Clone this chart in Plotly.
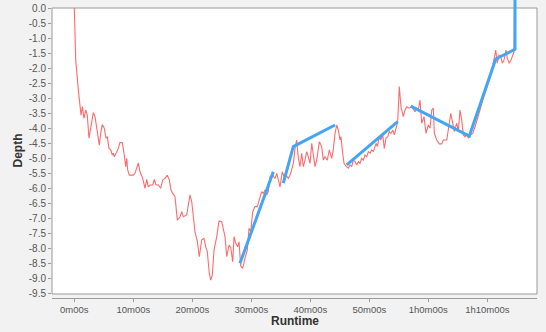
import plotly.graph_objects as go

# Red depth profile (runtime in minutes, depth)
runtime_min = [0.00, 0.24, 0.68, 1.14, 1.36, 1.64, 1.93, 2.20, 2.49, 2.78, 3.22, 3.51, 3.80, 4.24, 4.47, 4.75,
               5.08, 5.37, 5.59, 5.88, 6.17, 6.44, 6.61, 6.78, 7.19, 7.46, 7.75, 8.14, 8.47, 8.71, 8.88, 9.05,
               9.32, 10.00, 10.29, 10.58, 10.85, 11.14, 11.59, 11.98, 12.27, 12.54, 12.83, 13.29, 13.56, 13.85,
               14.24, 14.64, 14.98, 15.37, 15.76, 16.10, 16.39, 16.68, 17.07, 17.46, 17.92, 18.20, 18.47, 19.05,
               19.61, 19.90, 20.46, 20.85, 21.19, 21.59, 21.98, 22.27, 22.54, 22.88, 23.12, 23.39, 23.68, 24.14,
               24.53, 24.98, 25.25, 25.54, 25.83, 26.22, 26.51, 26.85, 27.07, 27.36, 27.69, 27.92, 28.20, 28.54,
               28.93, 29.32, 29.61, 29.90, 30.24, 30.63, 31.02, 31.36, 31.76, 32.03, 32.32, 32.61, 32.88, 33.17,
               33.63, 34.02, 34.31, 34.58, 34.86, 35.25, 35.54, 35.88, 36.27, 36.68, 37.12, 37.41, 37.69, 37.97,
               38.25, 38.54, 38.81, 39.10, 39.39, 39.66, 39.95, 40.24, 40.51, 40.80, 41.08, 41.53, 41.93, 42.20,
               42.49, 42.88, 43.22, 43.63, 43.90, 44.19, 44.47, 44.75, 45.03, 45.20, 45.49, 45.71, 46.05, 46.44,
               46.73, 47.02, 47.29, 47.58, 47.86, 48.14, 48.42, 48.71, 48.98, 49.27, 49.56, 49.83, 50.12, 50.41,
               50.68, 51.14, 51.36, 51.69, 51.93, 52.27, 52.54, 52.83, 53.12, 53.39, 53.68, 53.97, 54.24, 54.53,
               54.81, 55.08, 55.37, 55.76, 56.05, 56.34, 56.78, 57.19, 57.75, 58.03, 58.31, 58.59, 58.88, 59.27,
               59.61, 60.00, 60.29, 60.58, 60.85, 61.02, 61.42, 61.86, 62.27, 62.54, 63.12, 63.51, 63.80, 64.14,
               64.41, 64.81, 65.08, 65.37, 65.66, 65.93, 66.22, 66.51, 66.78, 67.07, 67.53, 67.92, 68.31, 68.76,
               69.22, 69.61, 70.00, 70.34, 70.75, 71.14, 71.42, 71.69, 71.98, 72.27, 72.54, 72.83, 73.17, 73.39,
               73.73, 74.02, 74.31, 74.53, 74.61]
depth = [0.00, -1.73, -2.73, -3.57, -3.29, -3.68, -3.40, -3.57, -4.34, -3.96, -3.49, -3.62, -3.96, -4.57, -4.18, -3.88,
         -4.01, -4.34, -4.29, -4.68, -4.73, -4.90, -4.84, -4.96, -4.79, -4.68, -4.48, -4.49, -4.90, -5.29, -5.01, -5.40,
         -5.57, -5.57, -5.51, -5.29, -5.16, -5.46, -5.68, -6.01, -5.71, -5.96, -5.90, -5.90, -5.71, -5.90,
         -5.90, -6.01, -5.73, -5.68, -5.57, -5.73, -6.07, -6.18, -6.29, -7.07, -6.96, -6.79, -6.96, -6.90,
         -6.23, -6.46, -7.46, -7.79, -8.29, -7.73, -7.68, -7.96, -8.12, -8.84, -9.07, -8.90, -8.07, -7.62,
         -7.10, -7.12, -7.34, -7.62, -8.29, -7.90, -7.98, -8.46, -7.62, -7.84, -7.96, -7.79, -8.60, -8.68,
         -8.34, -8.07, -7.34, -7.46, -6.79, -6.62, -6.62, -6.40, -6.12, -6.18, -6.07, -6.23, -6.12, -5.62,
         -5.57, -5.68, -5.51, -5.73, -5.96, -5.46, -5.62, -5.57, -5.68, -5.51, -5.18, -4.68, -4.40, -5.01,
         -5.29, -4.84, -5.29, -5.07, -4.79, -4.96, -5.18, -4.51, -4.84, -5.29, -5.07, -4.46, -4.62, -5.07,
         -4.96, -5.07, -4.73, -5.01, -4.71, -4.18, -3.90, -4.07, -4.40, -4.29, -4.84, -5.18, -5.27, -5.34,
         -5.23, -5.29, -5.07, -5.12, -5.23, -5.12, -5.18, -5.01, -5.07, -4.90, -4.96, -4.79, -4.84, -4.73,
         -4.79, -4.51, -4.62, -4.29, -4.40, -4.23, -4.68, -4.34, -4.29, -4.12, -4.18, -4.07, -4.23, -3.96,
         -3.79, -2.62, -3.30, -3.62, -3.40, -3.29, -3.34, -3.29, -3.46, -3.34, -3.40, -3.07, -3.84, -3.62,
         -4.18, -3.90, -4.01, -3.40, -3.34, -4.18, -4.40, -4.53, -4.53, -4.40, -4.40, -3.90, -3.51, -3.84,
         -4.12, -3.84, -4.12, -3.40, -3.73, -4.23, -4.29, -4.18, -4.34, -4.23, -4.18, -3.96, -3.73, -3.40,
         -3.07, -2.84, -2.68, -2.40, -2.12, -1.73, -1.40, -1.84, -1.57, -1.62, -1.84, -1.73, -1.40, -1.68,
         -1.84, -1.73, -1.57, -1.46, 0.00]

# Blue trend segments (None separates segments)
trend_min = [28.08, 33.73, None, 35.42, 37.12, 44.19, None, 46.17, 54.81, None,
             57.02, 66.95, 71.42, 74.69, 74.69]
trend_depth = [-8.51, -5.46, None, -5.84, -4.62, -3.90, None, -5.23, -3.79, None,
               -3.27, -4.27, -1.70, -1.38, 0.30]

x_tick_vals = [0, 10, 20, 30, 40, 50, 60, 70]
x_tick_text = ["0m00s", "10m00s", "20m00s", "30m00s", "40m00s", "50m00s", "1h0m00s", "1h10m00s"]
y_tick_vals = [-0.5 * i for i in range(20)]
y_tick_text = ["0.0"] + ["-%.1f" % (0.5 * i) for i in range(1, 20)]

BG = "#f2f2f2"
GRID = "#9a9a9a"
TICKC = "#555555"

fig = go.Figure()
fig.add_trace(go.Scatter(x=runtime_min, y=depth, mode="lines",
                         line=dict(color="#ff6b6b", width=1.1), hoverinfo="skip"))
fig.add_trace(go.Scatter(x=trend_min, y=trend_depth, mode="lines", connectgaps=False,
                         line=dict(color="#42a5f5", width=3), hoverinfo="skip"))

fig.update_layout(
    width=546, height=332,
    margin=dict(l=52, r=9, t=0, b=34),
    paper_bgcolor=BG, plot_bgcolor=BG,
    showlegend=False,
    font=dict(family="Liberation Sans, Arial, sans-serif", color=TICKC),
    shapes=[dict(type="rect", xref="paper", yref="y", x0=0, x1=1, y0=-9.533, y1=0,
                 fillcolor="white", line=dict(color=GRID, width=1), layer="below")],
    xaxis=dict(range=[-3.78, 78.42], tickvals=x_tick_vals, ticktext=x_tick_text,
               showgrid=False, zeroline=False, showline=True, linecolor=GRID, linewidth=1,
               ticks="outside", ticklen=3, tickcolor=GRID,
               tickfont=dict(size=9.5, color=TICKC)),
    yaxis=dict(range=[-9.6667, 0.2667], tickvals=y_tick_vals, ticktext=y_tick_text,
               showgrid=False, zeroline=False, showline=False,
               ticks="outside", ticklen=3, tickcolor=GRID,
               tickfont=dict(size=10, color=TICKC)),
    annotations=[
        dict(text="<b>Runtime</b>", xref="paper", yref="paper", x=0.5, y=0,
             yshift=-23, xanchor="center", yanchor="middle", showarrow=False,
             font=dict(size=12, color="#333333")),
        dict(text="<b>Depth</b>", xref="paper", yref="y", x=0, xshift=-35, y=-4.75,
             textangle=-90, xanchor="center", yanchor="middle", showarrow=False,
             font=dict(size=12, color="#333333")),
    ],
)

fig.write_html("out.html")
